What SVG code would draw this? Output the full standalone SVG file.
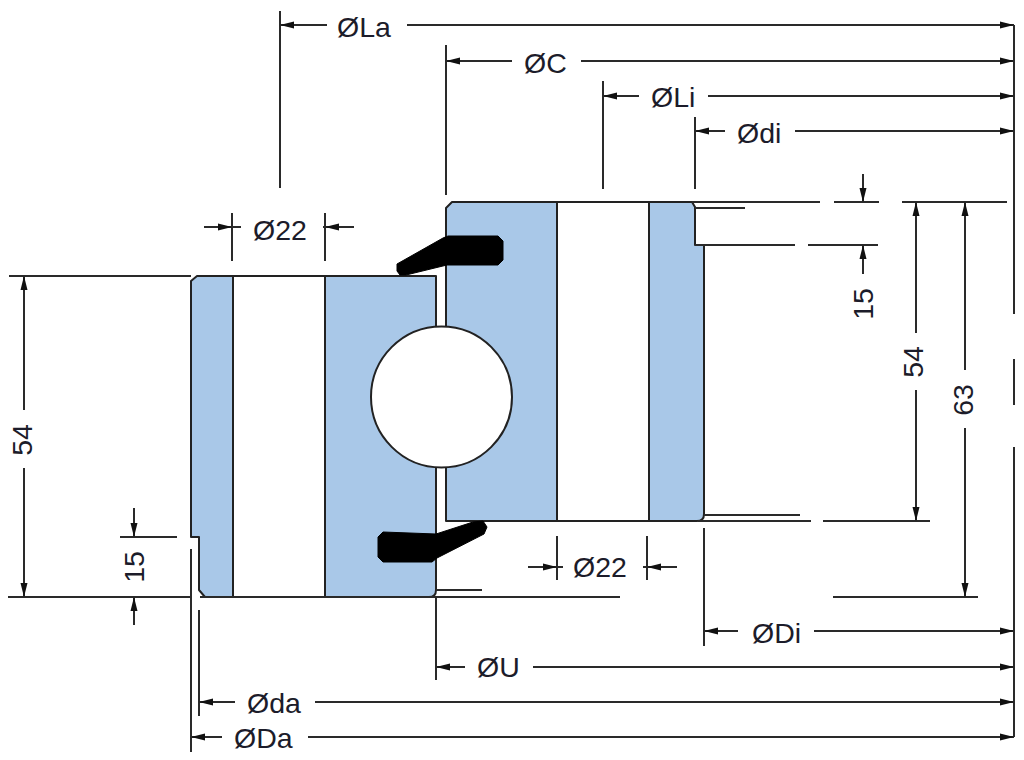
<svg xmlns="http://www.w3.org/2000/svg" width="1024" height="760" viewBox="0 0 1024 760">
<style>
.ring{fill:#a9c8e8;stroke:#222;stroke-width:2;stroke-linejoin:round}
.bore{fill:#fff;stroke:#222;stroke-width:2}
.ball{fill:#fff;stroke:#222;stroke-width:2}
.seal{fill:#000;stroke:#000;stroke-width:1;stroke-linejoin:round}
.l{stroke:#2a2a2a;stroke-width:2;fill:none}
.a{marker-end:url(#arrow)}
text{font-family:"Liberation Sans",Arial,sans-serif;font-size:28.5px;fill:#1c1c2a}
.m{text-anchor:middle;dominant-baseline:central}
</style>
<defs>
<marker id="arrow" markerUnits="userSpaceOnUse" markerWidth="14" markerHeight="8" refX="14" refY="4" orient="auto">
<path d="M0 0.5L14 4L0 7.5Z" fill="#111"/>
</marker>
</defs>
<rect width="1024" height="760" fill="#fff"/>
<g id="outer-ring">
<path class="ring" d="M191 281L197 276H436V590Q436 597 429 597H205L199 590V537H191Z"/>
<rect class="bore" x="233" y="276" width="92" height="321"/>
</g>
<g id="inner-ring">
<path class="ring" d="M446 208L452 202H692L695 207V245H704V514Q704 521 697 521H446Z"/>
<rect class="bore" x="557" y="202" width="92" height="319"/>
</g>
<g id="ball"><circle class="ball" cx="441.5" cy="397" r="70.5"/></g>
<g id="seal-top"><path class="seal" d="M397 264L443 238L448 236H498L503 241V260L498 265H447L406 275H400L397 271Z"/></g>
<g id="seal-bottom"><path class="seal" d="M383 532L436 534L473 522L483 521L487 527L484 534L437 558L432 562H383L378 557V537Z"/></g>
<g id="connectors">
<path class="l" d="M280 11V188M446 45V195M603 81V189M695 117V189M704 528V646M436 597V680M199 610V716M191 549V752"/>
<path class="l" d="M1014 25V314M1014 359V405M1014 447V737"/>
<path class="l a" d="M327 25H280"/><path class="l a" d="M407 25H1014"/>
<path class="l a" d="M512 61H446"/><path class="l a" d="M581 61H1014"/>
<path class="l a" d="M639 96H603"/><path class="l a" d="M708 96H1014"/>
<path class="l a" d="M725 131H695"/><path class="l a" d="M795 131H1014"/>
<path class="l a" d="M738 631H704"/><path class="l a" d="M814 631H1014"/>
<path class="l a" d="M465 667H436"/><path class="l a" d="M533 667H1014"/>
<path class="l a" d="M235 702H199"/><path class="l a" d="M315 702H1014"/>
<path class="l a" d="M222 737H191"/><path class="l a" d="M308 737H1014"/>
<path class="l" d="M232 213V261M325 213V261M557 536V580M647 536V580"/>
<path class="l a" d="M204 227H232"/><path class="l" d="M232 227H241"/>
<path class="l a" d="M354 227H325"/><path class="l" d="M325 227H323"/>
<path class="l a" d="M528 567H557"/><path class="l" d="M557 567H563"/>
<path class="l a" d="M677 567H647"/><path class="l" d="M647 567H643"/>
<path class="l" d="M9 276H191M8 597H190M200 597H620M120 537H177M436 590H482"/>
<path class="l" d="M692 202H820M834 202H879M902 202H1007M695 208H745M695 245H795M808 245H878"/>
<path class="l" d="M698 521H811M823 521H930M704 515H800M833 597H978"/>
<path class="l a" d="M863 174V202"/><path class="l a" d="M863 274V245"/>
<path class="l a" d="M134 508V537"/><path class="l a" d="M134 625V597"/>
<path class="l a" d="M916 333V202"/><path class="l a" d="M916 390V521"/>
<path class="l a" d="M965 370V202"/><path class="l a" d="M965 428V597"/>
<path class="l a" d="M24 410V276"/><path class="l a" d="M24 468V597"/>
</g>
<g id="labels">
<text x="337" y="37">ØLa</text>
<text x="524" y="73">ØC</text>
<text x="651" y="107">ØLi</text>
<text x="737" y="143">Ødi</text>
<text x="752" y="643">ØDi</text>
<text x="477" y="677">ØU</text>
<text x="247" y="713">Øda</text>
<text x="234" y="748">ØDa</text>
<text x="253" y="240">Ø22</text>
<text x="573" y="577">Ø22</text>
<text class="m" transform="translate(863 304) rotate(-90)">15</text>
<text class="m" transform="translate(913 362) rotate(-90)">54</text>
<text class="m" transform="translate(963 400) rotate(-90)">63</text>
<text class="m" transform="translate(22 440) rotate(-90)">54</text>
<text class="m" transform="translate(134 567) rotate(-90)">15</text>
</g>
</svg>
